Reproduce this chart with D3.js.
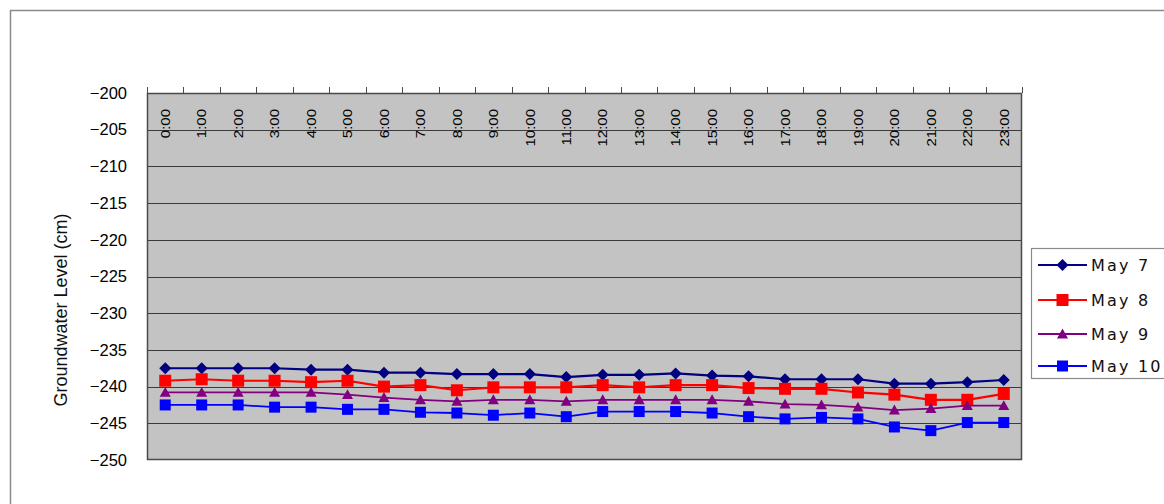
<!DOCTYPE html>
<html>
<head>
<meta charset="utf-8">
<script src="https://cdn.jsdelivr.net/npm/d3@7"></script>
<style>
  html, body { margin: 0; padding: 0; background: #ffffff; }
  svg { display: block; }
</style>
</head>
<body>
<svg id="chart" width="1164" height="504"></svg>
<script>
// Hourly groundwater level readings (cm), four consecutive days
const hours = ["0:00","1:00","2:00","3:00","4:00","5:00","6:00","7:00","8:00","9:00","10:00","11:00",
               "12:00","13:00","14:00","15:00","16:00","17:00","18:00","19:00","20:00","21:00","22:00","23:00"];

const may7  = [-237.5,-237.5,-237.5,-237.5,-237.7,-237.7,-238.1,-238.1,-238.3,-238.3,-238.3,-238.7,
               -238.4,-238.4,-238.2,-238.5,-238.6,-239.0,-239.0,-239.0,-239.6,-239.6,-239.4,-239.1];
const may8  = [-239.2,-239.0,-239.2,-239.2,-239.4,-239.2,-240.0,-239.8,-240.5,-240.1,-240.1,-240.1,
               -239.8,-240.1,-239.8,-239.8,-240.2,-240.3,-240.3,-240.8,-241.1,-241.8,-241.8,-241.0];
const may9  = [-240.8,-240.8,-240.8,-240.8,-240.8,-241.1,-241.5,-241.8,-242.0,-241.8,-241.8,-242.0,
               -241.8,-241.8,-241.8,-241.8,-242.0,-242.4,-242.5,-242.8,-243.2,-243.0,-242.6,-242.6];
const may10 = [-242.5,-242.5,-242.5,-242.8,-242.8,-243.1,-243.1,-243.5,-243.6,-243.9,-243.6,-244.1,
               -243.4,-243.4,-243.4,-243.6,-244.1,-244.4,-244.2,-244.4,-245.5,-246.0,-244.9,-244.9];

const seriesNames = ["May 7", "May 8", "May 9", "May 10"];
const yTicks = [-200,-205,-210,-215,-220,-225,-230,-235,-240,-245,-250];

const series = [
  { name: seriesNames[0], values: may7,  color: "#000080", marker: "diamond",  size: 12, width: 2.2 },
  { name: seriesNames[1], values: may8,  color: "#ff0000", marker: "square",   size: 12, width: 2.2 },
  { name: seriesNames[2], values: may9,  color: "#800080", marker: "triangle", size: 11, width: 1.8 },
  { name: seriesNames[3], values: may10, color: "#0000ff", marker: "square",   size: 11, width: 1.8 }
];

const svg = d3.select("#chart");
const plot = { left: 147, right: 1022, top: 93, bottom: 460 };

// Outer chart frame
svg.append("rect")
  .attr("x", 10.5).attr("y", 10.5).attr("width", 1200).attr("height", 600)
  .attr("fill", "#ffffff").attr("stroke", "#8a8a8a").attr("stroke-width", 1.5);

const x = d3.scaleBand().domain(hours).range([plot.left, plot.right]).paddingInner(0).paddingOuter(0);
const y = d3.scaleLinear().domain([-250, -200]).range([plot.bottom, plot.top]);

// Plot area
svg.append("rect")
  .attr("x", plot.left).attr("y", plot.top)
  .attr("width", plot.right - plot.left).attr("height", plot.bottom - plot.top)
  .attr("fill", "#c3c3c3");

// Horizontal gridlines
svg.append("g")
  .selectAll("line")
  .data(yTicks.filter(d => d !== -200 && d !== -250))
  .join("line")
  .attr("x1", plot.left).attr("x2", plot.right)
  .attr("y1", d => Math.round(y(d)) + 0.5).attr("y2", d => Math.round(y(d)) + 0.5)
  .attr("stroke", "#3a3a3a").attr("stroke-width", 1);

// Plot border
svg.append("rect")
  .attr("x", plot.left + 0.5).attr("y", plot.top + 0.5)
  .attr("width", plot.right - plot.left - 1).attr("height", plot.bottom - plot.top - 1)
  .attr("fill", "none").attr("stroke", "#4a4a4a").attr("stroke-width", 1.5);

// Category axis along the top: tick marks at category boundaries
const boundaries = hours.map(h => x(h)).concat([x.range()[1]]);
svg.append("g")
  .selectAll("line")
  .data(boundaries)
  .join("line")
  .attr("x1", d => Math.round(d) + 0.5).attr("x2", d => Math.round(d) + 0.5)
  .attr("y1", plot.top - 6).attr("y2", plot.top)
  .attr("stroke", "#4a4a4a").attr("stroke-width", 1);

// Rotated hour labels inside the plot
svg.append("g")
  .selectAll("text")
  .data(hours)
  .join("text")
  .attr("transform", d => `translate(${x(d) + x.bandwidth() / 2},${plot.top + 16}) rotate(-90) scale(1,0.88)`)
  .attr("text-anchor", "end")
  .attr("dy", "0.36em")
  .attr("font-family", "Liberation Sans, Arial, sans-serif")
  .attr("font-size", 15)
  .attr("fill", "#000")
  .text(d => d);

// Value axis on the left
const yAxis = d3.axisLeft(y).tickValues(yTicks).tickSize(0).tickPadding(20);
const yg = svg.append("g").attr("transform", `translate(${plot.left},0)`).call(yAxis);
yg.select(".domain").remove();
yg.selectAll("text")
  .attr("font-family", "Liberation Sans, Arial, sans-serif")
  .attr("font-size", 16.5)
  .attr("fill", "#000");

// Axis title
svg.append("text")
  .attr("transform", "translate(61,310) rotate(-90)")
  .attr("text-anchor", "middle")
  .attr("dy", "0.35em")
  .attr("font-family", "Liberation Sans, Arial, sans-serif")
  .attr("font-size", 18)
  .attr("fill", "#111")
  .text("Groundwater Level (cm)");

// Marker shapes
function markerPath(type, s) {
  const h = s / 2;
  if (type === "diamond") return `M0,${-h}L${h},0L0,${h}L${-h},0Z`;
  if (type === "triangle") return `M0,${-h}L${h},${h * 0.8}L${-h},${h * 0.8}Z`;
  return `M${-h},${-h}H${h}V${h}H${-h}Z`;
}

const line = d3.line()
  .x((d, i) => x(hours[i]) + x.bandwidth() / 2)
  .y(d => y(d));

const lines = svg.append("g");
series.forEach(s => {
  lines.append("path")
    .datum(s.values)
    .attr("d", line)
    .attr("fill", "none")
    .attr("stroke", s.color)
    .attr("stroke-width", s.width)
    .attr("stroke-linejoin", "round");
  lines.append("g")
    .selectAll("path")
    .data(s.values)
    .join("path")
    .attr("transform", (d, i) => `translate(${x(hours[i]) + x.bandwidth() / 2},${y(d)})`)
    .attr("d", markerPath(s.marker, s.size))
    .attr("fill", s.color);
});

// Legend
const legend = svg.append("g");
legend.append("rect")
  .attr("x", 1031.5).attr("y", 248.5).attr("width", 160).attr("height", 130)
  .attr("fill", "#ffffff").attr("stroke", "#8a8a8a").attr("stroke-width", 1.2);

const legendY = [265, 300, 334, 366];
series.forEach((s, i) => {
  const g = legend.append("g").attr("transform", `translate(0,${legendY[i]})`);
  g.append("line")
    .attr("x1", 1038).attr("x2", 1087).attr("y1", 0).attr("y2", 0)
    .attr("stroke", s.color).attr("stroke-width", s.width);
  g.append("path")
    .attr("transform", "translate(1062.5,0)")
    .attr("d", markerPath(s.marker, s.size))
    .attr("fill", s.color);
  g.append("text")
    .attr("x", 1091).attr("y", 0).attr("dy", "0.36em")
    .attr("font-family", "DejaVu Sans, sans-serif")
    .attr("font-size", 16)
    .attr("letter-spacing", 2.2)
    .attr("fill", "#111")
    .text(s.name);
});
</script>
</body>
</html>
